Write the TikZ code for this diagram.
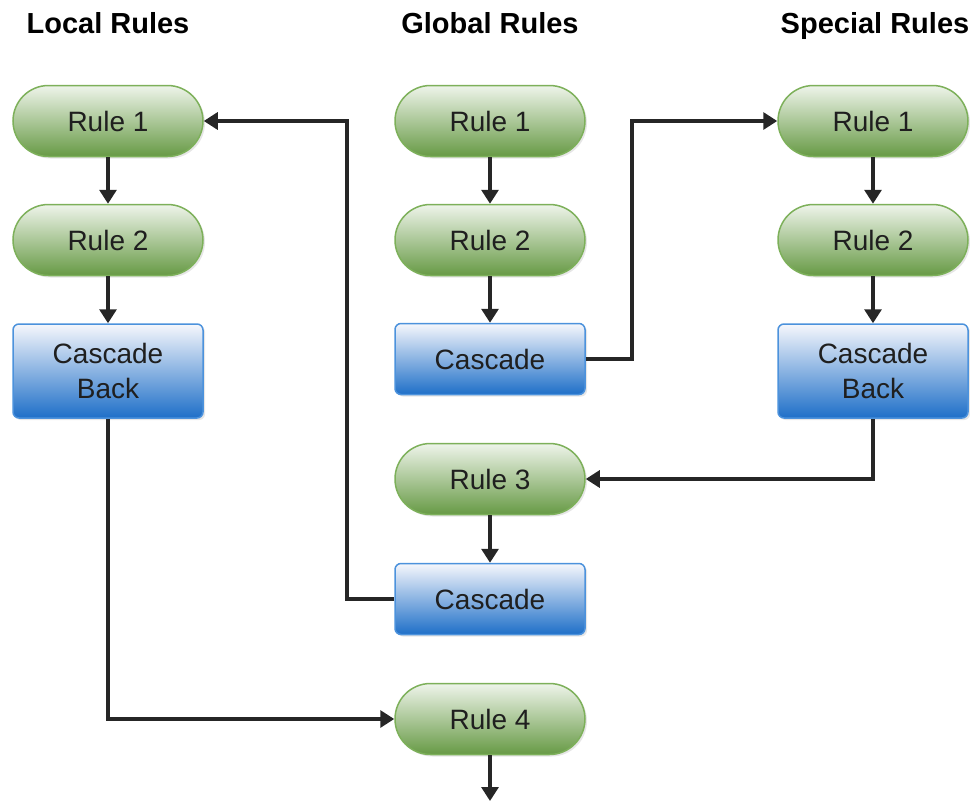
\documentclass[tikz,border=0pt]{standalone}
\usepackage{fontspec}
\setmainfont{Liberation Sans}
\usetikzlibrary{arrows.meta,shadows}
\definecolor{grtop}{HTML}{EEF4EA}
\definecolor{grbot}{HTML}{679A45}
\definecolor{grline}{HTML}{7DB05A}
\definecolor{bltop}{HTML}{F6F7FC}
\definecolor{blbot}{HTML}{1E6FC8}
\definecolor{blline}{HTML}{4C92DC}
\definecolor{arr}{HTML}{262626}
\begin{document}
\begin{tikzpicture}[x=1pt,y=-1pt,
  rulebox/.style={rectangle, rounded corners=35.5pt, draw=grline, line width=1.5pt,
    top color=grtop, bottom color=grbot, minimum width=190pt, minimum height=71pt,
    font=\fontsize{28}{31}\selectfont, text=black!88,
    drop shadow={shadow xshift=2pt,shadow yshift=-2pt,opacity=0.2}},
  casbox/.style={rectangle, rounded corners=6pt, draw=blline, line width=1.5pt,
    top color=bltop, bottom color=blbot, minimum width=190pt,
    font=\fontsize{28}{35}\selectfont, text=black!88, align=center,
    drop shadow={shadow xshift=2pt,shadow yshift=-2pt,opacity=0.2}},
  head/.style={font=\bfseries\fontsize{29}{32}\selectfont, anchor=base},
  conn/.style={draw=arr, line width=3.2pt, -{Triangle[width=17pt,length=14pt]}}
]
\useasboundingbox (0,0) rectangle (970,801);
% headers
\node[head] (hl) at (108,33) {Local Rules};
\node[head] (hg) at (490,33) {Global Rules};
\node[head] (hs) at (875,33) {Special Rules};
% local
\node[rulebox] (l1) at (108,121) {Rule 1};
\node[rulebox] (l2) at (108,240) {Rule 2};
\node[casbox, minimum height=94pt] (l3) at (108,371) {Cascade\\Back};
% global
\node[rulebox] (g1) at (490,121) {Rule 1};
\node[rulebox] (g2) at (490,240) {Rule 2};
\node[casbox, minimum height=71pt] (g3) at (490,359) {Cascade};
\node[rulebox] (g4) at (490,479) {Rule 3};
\node[casbox, minimum height=71pt] (g5) at (490,599) {Cascade};
\node[rulebox] (g6) at (490,719) {Rule 4};
\coordinate (gend) at (490,801);
% special
\node[rulebox] (s1) at (873,121) {Rule 1};
\node[rulebox] (s2) at (873,240) {Rule 2};
\node[casbox, minimum height=94pt] (s3) at (873,371) {Cascade\\Back};
% connectors
\draw[conn] (l1) -- (l2);
\draw[conn] (l2) -- (l3);
\draw[conn] (g1) -- (g2);
\draw[conn] (g2) -- (g3);
\draw[conn] (g4) -- (g5);
\draw[conn] (g6) -- (gend);
\draw[conn] (s1) -- (s2);
\draw[conn] (s2) -- (s3);
\draw[conn] (g3.east) -- (632,359) -- (632,121) -- (s1.west);
\draw[conn] (s3.south) -- (873,479) -- (g4.east);
\draw[conn] (g5.west) -- (347,599) -- (347,121) -- (l1.east);
\draw[conn] (l3.south) -- (108,719) -- (g6.west);
\end{tikzpicture}
\end{document}
